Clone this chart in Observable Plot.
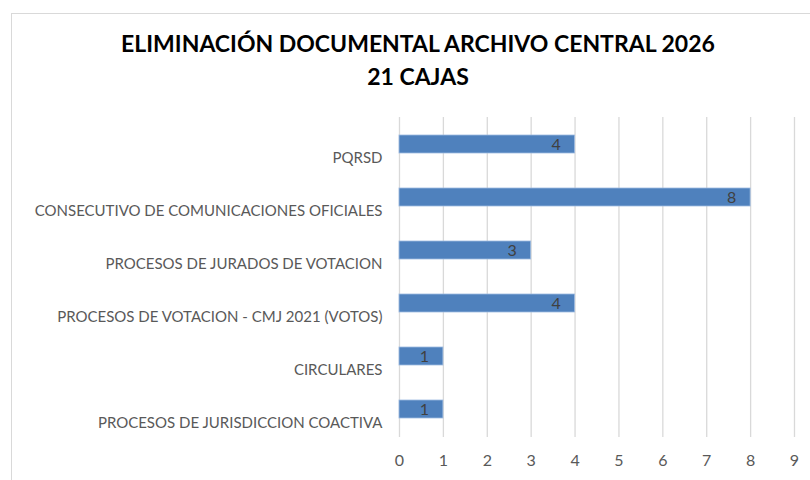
<!DOCTYPE html>
<html>
<head>
<meta charset="utf-8">
<script src="https://cdn.jsdelivr.net/npm/d3@7"></script>
<script src="https://cdn.jsdelivr.net/npm/@observablehq/plot@0.6"></script>
<style>
  html, body { margin: 0; padding: 0; background: #fff; }
  #wrap { position: relative; width: 810px; height: 480px; overflow: hidden; background: #fff; }
  #frame { position: absolute; left: 11px; top: 13px; width: 820px; height: 500px; border: 1px solid #d9d9d9; box-sizing: border-box; }
  #title { position: absolute; left: 0; width: 836px; top: 27px; text-align: center; font-family: Lato, "Liberation Sans", sans-serif; font-weight: bold; font-size: 23px; line-height: 33px; color: #000; }
  #chart { position: absolute; left: 0; top: 0; }
</style>
</head>
<body>
<div id="wrap">
  <div id="frame"></div>
  <div id="title">ELIMINACIÓN DOCUMENTAL ARCHIVO CENTRAL 2026<br>21 CAJAS</div>
  <div id="chart"></div>
</div>
<script>
const categories = [
  "PQRSD",
  "CONSECUTIVO DE COMUNICACIONES OFICIALES",
  "PROCESOS DE JURADOS DE VOTACION",
  "PROCESOS DE VOTACION - CMJ 2021 (VOTOS)",
  "CIRCULARES",
  "PROCESOS DE JURISDICCION COACTIVA"
];
const values = [4, 8, 3, 4, 1, 1];
const xTicks = [0, 1, 2, 3, 4, 5, 6, 7, 8, 9];

const data = categories.map((c, i) => ({category: c, value: values[i]}));

const plot = Plot.plot({
  width: 810,
  height: 480,
  marginLeft: 399,
  marginRight: 16,
  marginTop: 117,
  marginBottom: 43,
  style: {fontFamily: "Lato, 'Liberation Sans', sans-serif", background: "transparent"},
  x: {domain: [0, 9], ticks: xTicks},
  y: {domain: categories, paddingInner: 0.66, paddingOuter: 0.33},
  marks: [
    Plot.gridX(xTicks, {stroke: "#d9d9d9", strokeOpacity: 1, strokeWidth: 1.3}),
    Plot.barX(data, {x: "value", y: "category", fill: "#4f81bd", stroke: "#9dbbe0", strokeWidth: 0.8}),
    Plot.text(data, {x: "value", y: "category", text: d => String(d.value), dx: -19, textAnchor: "middle", fill: "#404040", fontSize: 16}),
    Plot.axisX(xTicks, {tickSize: 0, tickPadding: 17, fontSize: 16, fill: "#595959", label: null}),
    Plot.axisY({tickSize: 0, tickPadding: 17, dy: 14, fontSize: 15, fill: "#595959", label: null})
  ]
});
document.getElementById("chart").appendChild(plot);
</script>
</body>
</html>
